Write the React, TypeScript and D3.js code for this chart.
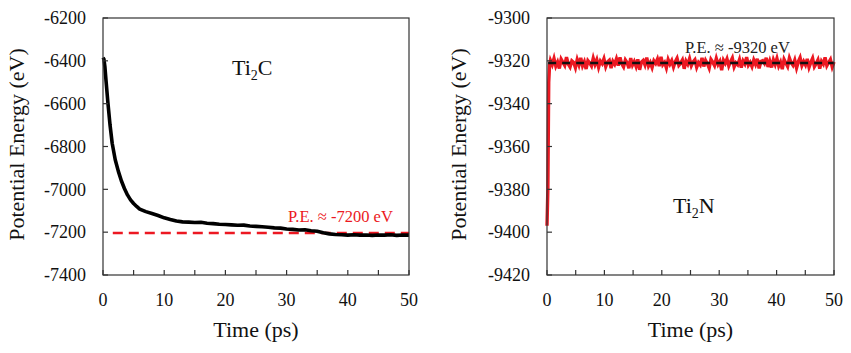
import React from "react";
import * as d3 from "d3";

// ---------- data ----------
const xTickValues = [0, 10, 20, 30, 40, 50];
const xMinorTicks = [0, 5, 10, 15, 20, 25, 30, 35, 40, 45, 50];
const yTicksC = [-7400, -7200, -7000, -6800, -6600, -6400, -6200];
const yTicksN = [-9420, -9400, -9380, -9360, -9340, -9320, -9300];

// Ti2C potential energy (time ps, energy eV)
const ti2cTime = [0, 0.15, 0.3, 0.5, 0.8, 1.15, 1.5, 2.0, 2.5, 3.0, 3.5, 4.0, 4.5, 5.0, 5.5, 6.0, 7.0, 8.0, 9.0, 10, 11, 12, 13, 14, 15, 16, 17, 18, 19, 20, 21, 22, 23, 24, 25, 26, 27, 28, 29, 30, 31, 32, 33, 34, 35, 36, 37, 38, 39, 40, 41, 42, 43, 44, 45, 46, 47, 48, 49, 50];
const ti2cEnergy = [-6385, -6392, -6425, -6495, -6595, -6700, -6785, -6862, -6915, -6960, -6996, -7026, -7049, -7066, -7080, -7092, -7104, -7113, -7122, -7133, -7141, -7148, -7152, -7153, -7155, -7154, -7158, -7160, -7163, -7164, -7166, -7168, -7167, -7171, -7173, -7175, -7177, -7180, -7181, -7185, -7187, -7190, -7189, -7193, -7196, -7203, -7208, -7211, -7212, -7214, -7212, -7214, -7213, -7215, -7213, -7214, -7212, -7215, -7213, -7214];
const ti2cRef = -7204;

// Ti2N potential energy
const ti2nStartTime = [0, 0.15, 0.3, 0.45];
const ti2nStartEnergy = [-9397, -9380, -9330, -9322];
const ti2nSteadyStart = 0.6;
const ti2nSteadyEnd = 50;
const ti2nSteadyEnergy = [
  -9319.8, -9321.8, -9318.9, -9322.5, -9320.6, -9323.6, -9319.2, -9320.7, -9322.1, -9318.3, -9321.5, -9322.9, -9320.0, -9320.8, -9323.2, -9319.4, -9321.9, -9318.6, -9322.3, -9320.4,
  -9323.8, -9319.9, -9321.0, -9322.4, -9318.8, -9321.7, -9319.5, -9323.0, -9320.1, -9321.3, -9319.0, -9322.7, -9320.5, -9319.7, -9323.4, -9320.2, -9321.6, -9319.1, -9322.2, -9318.4,
  -9321.4, -9322.8, -9319.6, -9320.9, -9323.5, -9318.7, -9322.0, -9320.3, -9322.6, -9319.3, -9324.2, -9320.6, -9319.8, -9321.9, -9318.5, -9322.4, -9320.8, -9323.1, -9320.0, -9321.2,
  -9319.2, -9322.5, -9318.1, -9321.8, -9320.7, -9323.3, -9319.4, -9321.5, -9319.9, -9322.9, -9320.4, -9318.8, -9322.1, -9321.1, -9319.6, -9323.7, -9320.1, -9321.6, -9319.0, -9322.3,
  -9320.5, -9319.5, -9323.0, -9320.8, -9321.9, -9318.6, -9322.6, -9319.8, -9321.3, -9323.4, -9319.3, -9320.6, -9322.2, -9318.9, -9321.7, -9320.2, -9324.4, -9319.7, -9321.2, -9319.1,
  -9322.4, -9320.4, -9318.7, -9322.8, -9320.9, -9321.8, -9319.4, -9323.2, -9320.0, -9321.4, -9318.3, -9322.0, -9320.7, -9322.7, -9319.6, -9321.6, -9319.0, -9323.5, -9320.3, -9319.9,
  -9321.2, -9318.6, -9322.9, -9320.1, -9323.1, -9319.5, -9321.7, -9318.9, -9322.4, -9320.6, -9323.9, -9319.3, -9321.0, -9322.6, -9318.7, -9320.9, -9322.1, -9319.7, -9323.3, -9320.4,
  -9318.5, -9322.2, -9320.3, -9321.9, -9319.1, -9323.0, -9320.7, -9318.8, -9322.7, -9321.3, -9319.6, -9323.6, -9320.2, -9321.5, -9318.4, -9322.3, -9320.8, -9319.4, -9322.8, -9320.5,
];
const ti2nRef = -9321;

const FONT = '"Liberation Serif", "Times New Roman", Tinos, "Noto Serif", "DejaVu Serif", FreeSerif, serif';
const RED = "#ec1822";

type PanelProps = {
  x0: number; x1: number; y0: number; y1: number;
  yDomain: [number, number]; yTicks: number[];
  titleX: number;
  children: (x: d3.ScaleLinear<number, number>, y: d3.ScaleLinear<number, number>) => React.ReactNode;
};

const txt = (size: number, fill = "#111") => ({ fontFamily: FONT, fontSize: size + "px", fill });

function Panel({ x0, x1, y0, y1, yDomain, yTicks, titleX, children }: PanelProps) {
  const x = d3.scaleLinear().domain([0, 50]).range([x0, x1]);
  const y = d3.scaleLinear().domain(yDomain).range([y1, y0]);
  const tl = 5;
  return (
    <g>
      {children(x, y)}
      <rect x={x0} y={y0} width={x1 - x0} height={y1 - y0} fill="none" stroke="#333" strokeWidth={1.2} />
      {xMinorTicks.map((t) => (
        <line key={"xt" + t} x1={x(t)} x2={x(t)} y1={y1} y2={y1 - tl} stroke="#333" strokeWidth={1.2} />
      ))}
      {xTickValues.map((t) => (
        <text key={"xl" + t} x={x(t)} y={306} textAnchor="middle" style={txt(18)}>
          {t}
        </text>
      ))}
      {yTicks.map((t) => (
        <g key={"yt" + t}>
          <line x1={x0} x2={x0 + tl} y1={y(t)} y2={y(t)} stroke="#333" strokeWidth={1.2} />
          <text x={x0 - 17} y={y(t)} dy="0.35em" textAnchor="end" style={txt(18)}>
            {t}
          </text>
        </g>
      ))}
      <text x={(x0 + x1) / 2} y={337} textAnchor="middle" style={txt(22)}>
        Time (ps)
      </text>
      <text
        transform={`translate(${titleX},${(y0 + y1) / 2 - 2}) rotate(-90)`}
        textAnchor="middle"
        style={txt(22)}
      >
        Potential Energy (eV)
      </text>
    </g>
  );
}

export default function App() {
  const ti2nSteadyTime = ti2nSteadyEnergy.map(
    (_, i) => ti2nSteadyStart + (i * (ti2nSteadyEnd - ti2nSteadyStart)) / (ti2nSteadyEnergy.length - 1)
  );
  const ti2nTime = [...ti2nStartTime, ...ti2nSteadyTime];
  const ti2nEnergy = [...ti2nStartEnergy, ...ti2nSteadyEnergy];

  return (
    <svg width={851} height={353} style={{ position: "absolute", left: 0, top: 0, background: "#fff" }}>
      <Panel x0={103} x1={409} y0={18} y1={275} yDomain={[-7400, -6200]} yTicks={yTicksC} titleX={24}>
        {(x, y) => {
          const line = d3.line<number>().x((_, i) => x(ti2cTime[i])).y((v) => y(v));
          return (
            <g>
              <line x1={x(1.6)} x2={x(50)} y1={y(ti2cRef)} y2={y(ti2cRef)} stroke={RED} strokeWidth={2.6} strokeDasharray="10,6" />
              <path d={line(ti2cEnergy) || ""} fill="none" stroke="#000" strokeWidth={3.6} strokeLinejoin="round" />
              <text x={232} y={75} style={txt(22)}>
                Ti<tspan style={{ fontSize: "14px" }} dy={5}>2</tspan><tspan dy={-5}>C</tspan>
              </text>
              <text x={288} y={222} style={txt(16.5, RED)}>
                P.E. ≈ -7200 eV
              </text>
            </g>
          );
        }}
      </Panel>
      <Panel x0={547} x1={834} y0={18} y1={275} yDomain={[-9420, -9300]} yTicks={yTicksN} titleX={466}>
        {(x, y) => {
          const line = d3.line<number>().x((_, i) => x(ti2nTime[i])).y((v) => y(v));
          return (
            <g>
              <path d={line(ti2nEnergy) || ""} fill="none" stroke={RED} strokeWidth={3.4} strokeLinejoin="miter" />
              <line x1={x(0.2)} x2={x(50)} y1={y(ti2nRef)} y2={y(ti2nRef)} stroke="#111" strokeWidth={2.4} strokeDasharray="8,6" />
              <text x={673} y={213} style={txt(22)}>
                Ti<tspan style={{ fontSize: "14px" }} dy={5}>2</tspan><tspan dy={-5}>N</tspan>
              </text>
              <text x={685} y={53} style={txt(16.5, "#222")}>
                P.E. ≈ -9320 eV
              </text>
            </g>
          );
        }}
      </Panel>
    </svg>
  );
}
